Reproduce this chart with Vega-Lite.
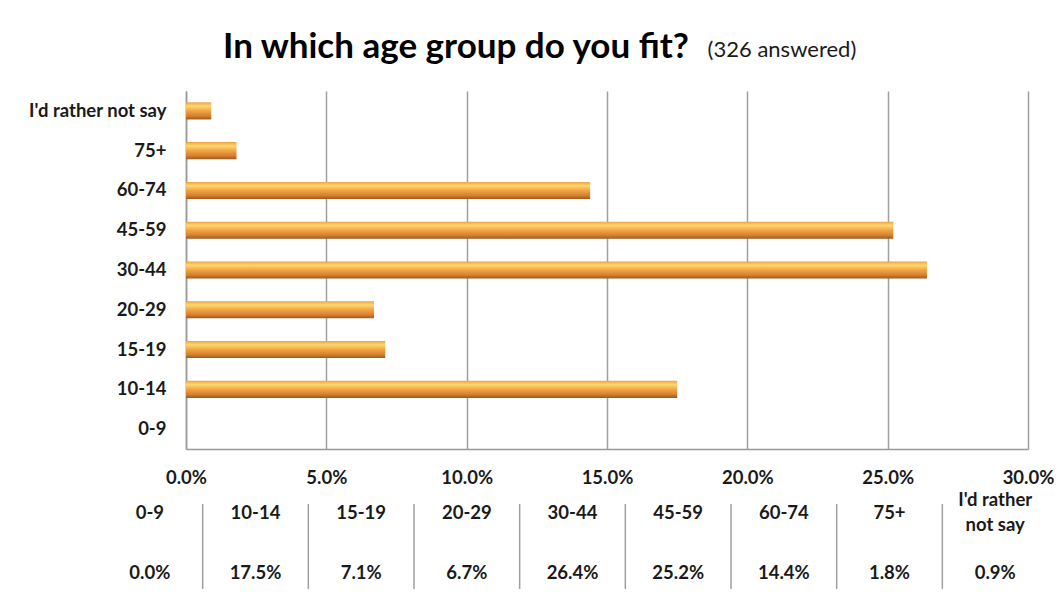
{
  "$schema": "https://vega.github.io/schema/vega-lite/v6.json",
  "background": "white",
  "padding": {"left": 20, "top": 30, "right": 5, "bottom": 5},
  "title": {
    "text": "In which age group do you fit?",
    "subtitle": "(326 answered)",
    "anchor": "middle",
    "font": "Lato",
    "fontSize": 35,
    "fontWeight": "bold",
    "color": "#000000",
    "subtitleFont": "Lato",
    "subtitleFontSize": 22,
    "subtitleFontWeight": "normal",
    "subtitleColor": "#1a1a1a",
    "subtitlePadding": 0,
    "offset": 26
  },
  "datasets": {
    "ages": [
      {"group": "0-9", "tableLabel": "0-9", "share": 0.0},
      {"group": "10-14", "tableLabel": "10-14", "share": 0.175},
      {"group": "15-19", "tableLabel": "15-19", "share": 0.071},
      {"group": "20-29", "tableLabel": "20-29", "share": 0.067},
      {"group": "30-44", "tableLabel": "30-44", "share": 0.264},
      {"group": "45-59", "tableLabel": "45-59", "share": 0.252},
      {"group": "60-74", "tableLabel": "60-74", "share": 0.144},
      {"group": "75+", "tableLabel": "75+", "share": 0.018},
      {"group": "I'd rather not say", "tableLabel": "I'd rather\nnot say", "share": 0.009}
    ]
  },
  "bounds": "flush",
  "spacing": 55,
  "vconcat": [
    {
      "width": 842,
      "height": 358,
      "data": {"name": "ages"},
      "mark": {
        "type": "bar",
        "color": {
          "gradient": "linear",
          "x1": 0, "y1": 0, "x2": 0, "y2": 1,
          "stops": [
            {"offset": 0, "color": "#f0a040"},
            {"offset": 0.22, "color": "#fed870"},
            {"offset": 0.5, "color": "#f2a444"},
            {"offset": 0.8, "color": "#d5802e"},
            {"offset": 1, "color": "#9c5820"}
          ]
        }
      },
      "encoding": {
        "y": {
          "field": "group",
          "type": "nominal",
          "scale": {
            "domain": ["I'd rather not say", "75+", "60-74", "45-59", "30-44", "20-29", "15-19", "10-14", "0-9"],
            "paddingInner": 0.57,
            "paddingOuter": 0.285
          },
          "axis": {
            "title": null,
            "labelFont": "Lato",
            "labelFontSize": 18.5,
            "labelFontWeight": "bold",
            "labelColor": "#1a1a1a",
            "labelPadding": 20,
            "labelLimit": 300,
            "ticks": false,
            "domainColor": "#999999",
            "domainWidth": 1.5,
            "minExtent": 166
          }
        },
        "x": {
          "field": "share",
          "type": "quantitative",
          "scale": {"domain": [0, 0.3]},
          "axis": {
            "title": null,
            "format": ".1%",
            "values": [0, 0.05, 0.1, 0.15, 0.2, 0.25, 0.3],
            "grid": true,
            "gridColor": "#a0a0a0",
            "gridWidth": 1.5,
            "ticks": false,
            "domainColor": "#999999",
            "domainWidth": 1.5,
            "labelFlush": false,
            "labelFont": "Lato",
            "labelFontSize": 18.5,
            "labelFontWeight": "bold",
            "labelColor": "#1a1a1a",
            "labelPadding": 19
          }
        }
      }
    },
    {
      "width": 842,
      "height": 85,
      "data": {"name": "ages"},
      "layer": [
        {
          "transform": [{"filter": "datum.group !== '0-9'"}],
          "mark": {"type": "rule", "color": "#a0a0a0", "strokeWidth": 1.5},
          "encoding": {
            "x": {
              "field": "group",
              "type": "nominal",
              "bandPosition": 0,
              "scale": {
                "domain": ["0-9", "10-14", "15-19", "20-29", "30-44", "45-59", "60-74", "75+", "I'd rather not say"],
                "range": [-89, 862],
                "paddingInner": 0,
                "paddingOuter": 0
              },
              "axis": null
            }
          }
        },
        {
          "transform": [{"filter": "datum.group !== \"I'd rather not say\""}],
          "mark": {"type": "text", "font": "Lato", "fontSize": 18.5, "fontWeight": "bold", "color": "#1a1a1a", "dy": -3},
          "encoding": {
            "x": {"field": "group", "type": "nominal", "axis": null},
            "y": {"datum": "label", "type": "nominal", "scale": {"type": "point", "domain": ["label", "value"], "padding": 0.2}, "axis": null},
            "text": {"field": "tableLabel"}
          }
        },
        {
          "transform": [{"filter": "datum.group === \"I'd rather not say\""}],
          "mark": {"type": "text", "font": "Lato", "fontSize": 18.5, "fontWeight": "bold", "color": "#1a1a1a", "lineBreak": "\n", "lineHeight": 25, "dy": -16},
          "encoding": {
            "x": {"field": "group", "type": "nominal", "axis": null},
            "y": {"datum": "label", "type": "nominal", "axis": null},
            "text": {"field": "tableLabel"}
          }
        },
        {
          "mark": {"type": "text", "font": "Lato", "fontSize": 18.5, "fontWeight": "bold", "color": "#1a1a1a", "dy": -4},
          "encoding": {
            "x": {"field": "group", "type": "nominal", "axis": null},
            "y": {"datum": "value", "type": "nominal", "axis": null},
            "text": {"field": "share", "type": "quantitative", "format": ".1%"}
          }
        }
      ]
    }
  ],
  "config": {
    "view": {"stroke": null},
    "style": {
      "group-title": {"dx": -81},
      "group-subtitle": {"dx": 245, "dy": -25}
    }
  }
}
